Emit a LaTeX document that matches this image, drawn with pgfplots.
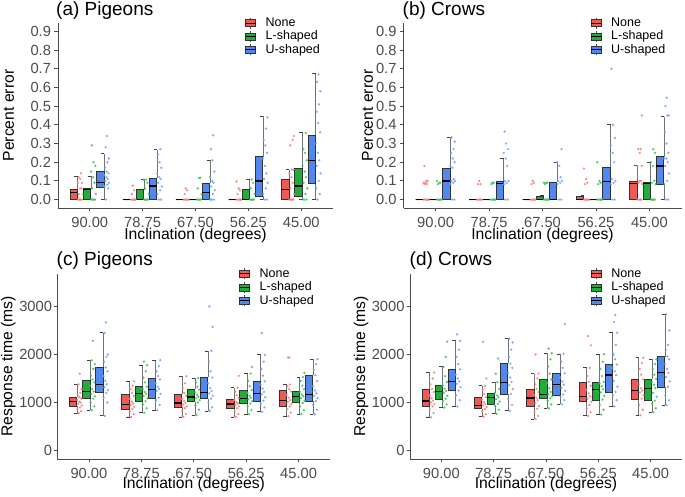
\documentclass[border=0pt]{standalone}
\usepackage{fontspec}
\setmainfont{Liberation Sans}
\usepackage{pgfplots}
\usepackage{pgfplotstable}
\pgfplotsset{compat=1.18}
\usepgfplotslibrary{statistics}
\definecolor{bR}{HTML}{EE5A55}
\definecolor{bG}{HTML}{1FAE3A}
\definecolor{bB}{HTML}{5088F0}
\definecolor{pR}{HTML}{F37E78}
\definecolor{pG}{HTML}{3DBF55}
\definecolor{pB}{HTML}{6F9EF7}
\definecolor{boxline}{HTML}{333333}
\tikzset{whiskline/.style={draw=black!55, line width=1pt}, whiskcap/.style={draw=black!75, line width=0.8pt}}
\pgfplotsset{legend image code/.code={%
  \path[draw=none, fill=none] (0pt,0pt) -- (20pt,0pt);
  \draw[black!70, line width=0.6pt] (5pt,-5.5pt) -- (5pt,5.5pt);
  \draw[#1, line width=0.6pt] (0pt,-3.5pt) rectangle (10pt,3.5pt);
  \draw[black, line width=1pt] (0pt,0pt) -- (10pt,0pt);}}
\pgfplotsset{panel/.style={
  scale only axis, anchor=south west,
  axis lines*=left,
  axis line style={line width=0.8pt, black!70},
  tick style={line width=0.8pt, black!70},
  tick align=outside, major tick length=3.5pt,
  xmin=0.4, xmax=5.6, xtick={1,2,3,4,5},
  xticklabels={90.00,78.75,67.50,56.25,45.00},
  tick label style={font=\fontsize{14.7}{16}\selectfont, text=black!70},
  xticklabel style={inner sep=0pt, anchor=north, yshift=-5.3pt},
  label style={font=\fontsize{15.7}{18}\selectfont, inner sep=0pt},
  xlabel={Inclination (degrees)},
  xlabel style={at={(axis description cs:0.5,0)}, anchor=base},
  ylabel style={at={(axis description cs:0,0.5)}, anchor=center},
  title style={at={(axis description cs:0,1)}, anchor=base west, inner sep=0pt, font=\fontsize{19}{22}\selectfont},
  legend style={draw=none, fill=none, inner sep=0pt, at={(axis description cs:0,1)}, anchor=north west,
    font=\fontsize{12.5}{14}\selectfont, row sep=1.8pt,
    nodes={inner sep=0pt, text height=9pt, text depth=2.5pt}},
  legend cell align=left,
  /pgf/number format/assume math mode=true,
  boxplot/draw direction=y,
  boxplot/box extend=0.14,
  boxplot/every median/.style={draw=black, line width=1.3pt},
  boxplot/draw/lower whisker/.code={%
    \draw[whiskline] (boxplot box cs:\pgfplotsboxplotvalue{lower whisker},1.07) -- (boxplot box cs:\pgfplotsboxplotvalue{lower quartile},1.07);
    \draw[whiskcap] (boxplot box cs:\pgfplotsboxplotvalue{lower whisker},0.6) -- (boxplot box cs:\pgfplotsboxplotvalue{lower whisker},1.07);},
  boxplot/draw/upper whisker/.code={%
    \draw[whiskline] (boxplot box cs:\pgfplotsboxplotvalue{upper quartile},1.07) -- (boxplot box cs:\pgfplotsboxplotvalue{upper whisker},1.07);
    \draw[whiskcap] (boxplot box cs:\pgfplotsboxplotvalue{upper whisker},0.6) -- (boxplot box cs:\pgfplotsboxplotvalue{upper whisker},1.07);},
}}
\newcommand\bx[7]{\addplot[forget plot, fill=#7, draw=boxline, line width=0.6pt, boxplot prepared={draw position=#1, lower whisker=#2, lower quartile=#3, median=#4, upper quartile=#5, upper whisker=#6}] coordinates {};}
\newcommand\pts[3]{\addplot[forget plot, only marks, color=#3, mark=*, mark size=1.3pt, mark options={solid, fill=#3, draw opacity=0, fill opacity=0.85}] table[x expr=\thisrow{g}+(#2)+0.1*\thisrow{j}, y=y] {#1};}
\newcommand\ptsms[3]{\addplot[forget plot, only marks, color=#3, mark=*, mark size=1.3pt, mark options={solid, fill=#3, draw opacity=0, fill opacity=0.85}] table[x expr=\thisrow{g}+(#2)+0.1*\thisrow{j}, y expr=\thisrow{y}/1000] {#1};}
\newcommand\leg{\addlegendimage{fill=bR, draw=boxline}\addlegendimage{fill=bG, draw=boxline}\addlegendimage{fill=bB, draw=boxline}\legend{None,L-shaped,U-shaped}}

\pgfplotstableread[row sep=\\]{g j y\\
1 0.35 0\\1 0.8 0\\1 0.1 0\\1 0.6 0\\1 0.95 0.03\\1 0.25 0.03\\1 0.7 0.06\\1 0.45 0.06\\1 0.05 0.09\\1 0.85 0.09\\1 0.5 0.11\\1 0.2 0.12\\1 0.65 0.14\\
2 0.35 0\\2 0.8 0\\2 0.1 0\\2 0.6 0\\2 0.95 0\\2 0.25 0.03\\2 0.7 0.05\\2 0.45 0.075\\
3 0.35 0\\3 0.8 0\\3 0.1 0\\3 0.6 0\\3 0.95 0\\3 0.25 0.03\\3 0.7 0.05\\3 0.45 0.06\\
4 0.35 0\\4 0.8 0\\4 0.1 0\\4 0.6 0\\4 0.95 0\\4 0.25 0.03\\4 0.7 0.05\\4 0.45 0.06\\4 0.05 0.097\\
5 0.35 0\\5 0.8 0\\5 0.1 0\\5 0.6 0\\5 0.95 0.03\\5 0.25 0.06\\5 0.7 0.09\\5 0.45 0.12\\5 0.05 0.14\\5 0.85 0.16\\5 0.5 0.16\\5 0.2 0.29\\5 0.65 0.32\\5 0.9 0.34\\
}\ARr
\pgfplotstableread[row sep=\\]{g j y\\
1 0.35 0\\1 0.8 0\\1 0.1 0\\1 0.6 0\\1 0.95 0.03\\1 0.25 0.06\\1 0.7 0.09\\1 0.45 0.12\\1 0.05 0.15\\1 0.85 0.18\\1 0.5 0.2\\1 0.2 0.29\\
2 0.35 0\\2 0.8 0\\2 0.1 0\\2 0.6 0\\2 0.95 0.03\\2 0.25 0.06\\2 0.7 0.09\\2 0.45 0.107\\2 0.05 0.107\\
3 0.35 0\\3 0.8 0\\3 0.1 0\\3 0.6 0\\3 0.95 0.03\\3 0.25 0.06\\3 0.7 0.116\\3 0.45 0.116\\
4 0.35 0\\4 0.8 0\\4 0.1 0\\4 0.6 0\\4 0.95 0.03\\4 0.25 0.06\\4 0.7 0.09\\4 0.45 0.107\\
5 0.35 0\\5 0.8 0\\5 0.1 0\\5 0.6 0.03\\5 0.95 0.06\\5 0.25 0.09\\5 0.7 0.12\\5 0.45 0.15\\5 0.05 0.18\\5 0.85 0.21\\5 0.5 0.25\\5 0.2 0.27\\5 0.65 0.357\\
}\AGr
\pgfplotstableread[row sep=\\]{g j y\\
1 0.35 0\\1 0.8 0.06\\1 0.1 0.07\\1 0.6 0.08\\1 0.95 0.09\\1 0.25 0.1\\1 0.7 0.11\\1 0.45 0.12\\1 0.05 0.13\\1 0.85 0.14\\1 0.5 0.15\\1 0.2 0.17\\1 0.65 0.2\\1 0.9 0.22\\1 0.3 0.28\\1 0.55 0.34\\
2 0.35 0\\2 0.8 0\\2 0.1 0.03\\2 0.6 0.05\\2 0.95 0.07\\2 0.25 0.09\\2 0.7 0.11\\2 0.45 0.12\\2 0.05 0.14\\2 0.85 0.17\\2 0.5 0.2\\2 0.2 0.24\\2 0.65 0.27\\
3 0.35 0\\3 0.8 0\\3 0.1 0\\3 0.6 0.03\\3 0.95 0.05\\3 0.25 0.07\\3 0.7 0.09\\3 0.45 0.1\\3 0.05 0.12\\3 0.85 0.15\\3 0.5 0.21\\3 0.2 0.27\\3 0.65 0.344\\
4 0.35 0\\4 0.8 0\\4 0.1 0.03\\4 0.6 0.06\\4 0.95 0.09\\4 0.25 0.11\\4 0.7 0.14\\4 0.45 0.18\\4 0.05 0.22\\4 0.85 0.25\\4 0.5 0.29\\4 0.2 0.32\\4 0.65 0.38\\4 0.9 0.44\\
5 0.35 0\\5 0.8 0.03\\5 0.1 0.06\\5 0.6 0.1\\5 0.95 0.14\\5 0.25 0.18\\5 0.7 0.21\\5 0.45 0.25\\5 0.05 0.3\\5 0.85 0.36\\5 0.5 0.41\\5 0.2 0.47\\5 0.65 0.51\\5 0.9 0.58\\5 0.3 0.63\\5 0.55 0.67\\
}\ABr
\pgfplotstableread[row sep=\\]{g j y\\
1 0.35 0\\1 0.8 0\\1 0.1 0\\1 0.6 0\\1 0.95 0\\1 0.25 0.083\\1 0.7 0.083\\1 0.45 0.09\\1 0.05 0.09\\1 0.85 0.1\\1 0.5 0.1\\1 0.2 0.18\\
2 0.35 0\\2 0.8 0\\2 0.1 0\\2 0.6 0\\2 0.95 0\\2 0.25 0.083\\2 0.7 0.083\\2 0.45 0.1\\
3 0.35 0\\3 0.8 0\\3 0.1 0\\3 0.6 0\\3 0.95 0\\3 0.25 0.083\\3 0.7 0.09\\3 0.45 0.1\\
4 0.35 0\\4 0.8 0\\4 0.1 0\\4 0.6 0\\4 0.95 0\\4 0.25 0.083\\4 0.7 0.09\\4 0.45 0.11\\4 0.05 0.166\\
5 0.35 0\\5 0.8 0\\5 0.1 0\\5 0.6 0\\5 0.95 0.083\\5 0.25 0.09\\5 0.7 0.1\\5 0.45 0.1\\5 0.05 0.18\\5 0.85 0.18\\5 0.5 0.25\\5 0.2 0.27\\5 0.65 0.27\\5 0.9 0.45\\
}\BRr
\pgfplotstableread[row sep=\\]{g j y\\
1 0.35 0\\1 0.8 0\\1 0.1 0\\1 0.6 0\\1 0.95 0\\1 0.25 0.083\\1 0.7 0.09\\1 0.45 0.09\\1 0.05 0.1\\
2 0.35 0\\2 0.8 0\\2 0.1 0\\2 0.6 0\\2 0.95 0\\2 0.25 0.083\\2 0.7 0.09\\2 0.45 0.09\\
3 0.35 0\\3 0.8 0\\3 0.1 0\\3 0.6 0\\3 0.95 0\\3 0.25 0.083\\3 0.7 0.09\\3 0.45 0.09\\3 0.05 0.09\\
4 0.35 0\\4 0.8 0\\4 0.1 0\\4 0.6 0\\4 0.95 0\\4 0.25 0.083\\4 0.7 0.09\\4 0.45 0.1\\4 0.05 0.2\\
5 0.35 0\\5 0.8 0\\5 0.1 0\\5 0.6 0\\5 0.95 0.083\\5 0.25 0.09\\5 0.7 0.1\\5 0.45 0.18\\5 0.05 0.2\\5 0.85 0.25\\5 0.5 0.27\\
}\BGr
\pgfplotstableread[row sep=\\]{g j y\\
1 0.35 0\\1 0.8 0\\1 0.1 0.083\\1 0.6 0.09\\1 0.95 0.1\\1 0.25 0.1\\1 0.7 0.11\\1 0.45 0.17\\1 0.05 0.18\\1 0.85 0.2\\1 0.5 0.22\\1 0.2 0.25\\1 0.65 0.27\\1 0.9 0.31\\1 0.3 0.333\\
2 0.35 0\\2 0.8 0\\2 0.1 0.083\\2 0.6 0.09\\2 0.95 0.1\\2 0.25 0.1\\2 0.7 0.18\\2 0.45 0.22\\2 0.05 0.25\\2 0.85 0.27\\2 0.5 0.3\\2 0.2 0.364\\
3 0.35 0\\3 0.8 0\\3 0.1 0.083\\3 0.6 0.09\\3 0.95 0.1\\3 0.25 0.1\\3 0.7 0.12\\3 0.45 0.18\\3 0.05 0.2\\3 0.85 0.27\\
4 0.35 0\\4 0.8 0\\4 0.1 0.083\\4 0.6 0.09\\4 0.95 0.1\\4 0.25 0.11\\4 0.7 0.2\\4 0.45 0.25\\4 0.05 0.29\\4 0.85 0.33\\4 0.5 0.4\\4 0.2 0.7\\
5 0.35 0\\5 0.8 0\\5 0.1 0.083\\5 0.6 0.1\\5 0.95 0.14\\5 0.25 0.18\\5 0.7 0.2\\5 0.45 0.22\\5 0.05 0.22\\5 0.85 0.25\\5 0.5 0.3\\5 0.2 0.36\\5 0.65 0.45\\5 0.9 0.45\\5 0.3 0.5\\5 0.55 0.545\\
}\BBr
\pgfplotstableread[row sep=\\]{g j y\\
1 0.35 780\\1 0.8 820\\1 0.1 860\\1 0.6 900\\1 0.95 940\\1 0.25 970\\1 0.7 1000\\1 0.45 1020\\1 0.05 1050\\1 0.85 1080\\1 0.5 1110\\1 0.2 1150\\1 0.65 1200\\1 0.9 1280\\1 0.3 1380\\1 0.55 1600\\
2 0.35 701\\2 0.8 760\\2 0.1 820\\2 0.6 870\\2 0.95 910\\2 0.25 950\\2 0.7 980\\2 0.45 1020\\2 0.05 1080\\2 0.85 1140\\2 0.5 1200\\2 0.2 1280\\2 0.65 1350\\2 0.9 1444\\
3 0.35 701\\3 0.8 760\\3 0.1 830\\3 0.6 880\\3 0.95 920\\3 0.25 960\\3 0.7 990\\3 0.45 1030\\3 0.05 1080\\3 0.85 1140\\3 0.5 1200\\3 0.2 1300\\3 0.65 1400\\3 0.9 1549\\
4 0.35 701\\4 0.8 760\\4 0.1 820\\4 0.6 880\\4 0.95 920\\4 0.25 950\\4 0.7 980\\4 0.45 1010\\4 0.05 1050\\4 0.85 1090\\4 0.5 1150\\4 0.2 1230\\4 0.65 1306\\4 0.9 1556\\
5 0.35 715\\5 0.8 790\\5 0.1 860\\5 0.6 920\\5 0.95 970\\5 0.25 1010\\5 0.7 1050\\5 0.45 1100\\5 0.05 1160\\5 0.85 1230\\5 0.5 1280\\5 0.2 1340\\5 0.65 1375\\5 0.3 1938\\5 0.55 1938\\
}\CRr
\pgfplotstableread[row sep=\\]{g j y\\
1 0.35 840\\1 0.8 920\\1 0.1 1000\\1 0.6 1080\\1 0.95 1130\\1 0.25 1180\\1 0.7 1230\\1 0.45 1280\\1 0.05 1350\\1 0.85 1420\\1 0.5 1480\\1 0.2 1560\\1 0.65 1700\\1 0.9 1800\\1 0.3 1880\\1 0.55 2285\\
2 0.35 785\\2 0.8 880\\2 0.1 960\\2 0.6 1030\\2 0.95 1090\\2 0.25 1140\\2 0.7 1180\\2 0.45 1220\\2 0.05 1280\\2 0.85 1330\\2 0.5 1420\\2 0.2 1520\\2 0.65 1650\\2 0.9 1778\\2 0.3 1850\\
3 0.35 735\\3 0.8 850\\3 0.1 940\\3 0.6 1000\\3 0.95 1050\\3 0.25 1090\\3 0.7 1120\\3 0.45 1160\\3 0.05 1210\\3 0.85 1270\\3 0.5 1330\\3 0.2 1420\\3 0.65 1510\\
4 0.35 757\\4 0.8 840\\4 0.1 920\\4 0.6 980\\4 0.95 1030\\4 0.25 1070\\4 0.7 1100\\4 0.45 1140\\4 0.05 1200\\4 0.85 1260\\4 0.5 1340\\4 0.2 1450\\4 0.65 1604\\4 0.9 1740\\
5 0.35 757\\5 0.8 840\\5 0.1 920\\5 0.6 990\\5 0.95 1040\\5 0.25 1090\\5 0.7 1130\\5 0.45 1170\\5 0.05 1220\\5 0.85 1280\\5 0.5 1350\\5 0.2 1450\\5 0.65 1528\\5 0.9 1620\\
}\CGr
\pgfplotstableread[row sep=\\]{g j y\\
1 0.35 722\\1 0.8 1000\\1 0.1 1100\\1 0.6 1200\\1 0.95 1260\\1 0.25 1320\\1 0.7 1380\\1 0.45 1450\\1 0.05 1550\\1 0.85 1650\\1 0.5 1730\\1 0.2 1850\\1 0.65 1950\\1 0.9 2000\\1 0.3 2450\\1 0.55 2667\\
2 0.35 840\\2 0.8 950\\2 0.1 1050\\2 0.6 1100\\2 0.95 1180\\2 0.25 1240\\2 0.7 1280\\2 0.45 1330\\2 0.05 1400\\2 0.85 1480\\2 0.5 1550\\2 0.2 1650\\2 0.65 1760\\2 0.9 1882\\
3 0.35 824\\3 0.8 900\\3 0.1 1000\\3 0.6 1080\\3 0.95 1140\\3 0.25 1190\\3 0.7 1240\\3 0.45 1300\\3 0.05 1400\\3 0.85 1520\\3 0.5 1650\\3 0.2 1850\\3 0.65 2073\\3 0.9 2575\\3 0.3 3000\\
4 0.35 806\\4 0.8 900\\4 0.1 980\\4 0.6 1040\\4 0.95 1110\\4 0.25 1170\\4 0.7 1220\\4 0.45 1290\\4 0.05 1380\\4 0.85 1440\\4 0.5 1560\\4 0.2 1700\\4 0.65 1850\\4 0.9 1993\\4 0.3 2444\\
5 0.35 757\\5 0.8 850\\5 0.1 950\\5 0.6 1030\\5 0.95 1090\\5 0.25 1140\\5 0.7 1190\\5 0.45 1250\\5 0.05 1340\\5 0.85 1450\\5 0.5 1570\\5 0.2 1680\\5 0.65 1800\\5 0.9 1903\\
}\CBr
\pgfplotstableread[row sep=\\]{g j y\\
1 0.35 690\\1 0.8 780\\1 0.1 860\\1 0.6 920\\1 0.95 970\\1 0.25 1010\\1 0.7 1040\\1 0.45 1090\\1 0.05 1150\\1 0.85 1220\\1 0.5 1280\\1 0.2 1380\\1 0.65 1500\\1 0.9 1625\\
2 0.35 708\\2 0.8 760\\2 0.1 820\\2 0.6 870\\2 0.95 910\\2 0.25 940\\2 0.7 970\\2 0.45 1010\\2 0.05 1060\\2 0.85 1110\\2 0.5 1180\\2 0.2 1260\\2 0.65 1347\\2 0.9 1500\\2 0.3 2264\\
3 0.35 653\\3 0.8 720\\3 0.1 800\\3 0.6 870\\3 0.95 930\\3 0.25 990\\3 0.7 1050\\3 0.45 1100\\3 0.05 1160\\3 0.85 1220\\3 0.5 1280\\3 0.2 1380\\3 0.65 1500\\3 0.9 1604\\3 0.3 2000\\
4 0.35 722\\4 0.8 800\\4 0.1 880\\4 0.6 950\\4 0.95 1020\\4 0.25 1080\\4 0.7 1130\\4 0.45 1190\\4 0.05 1260\\4 0.85 1350\\4 0.5 1430\\4 0.2 1550\\4 0.65 1722\\4 0.9 2190\\4 0.3 2382\\
5 0.35 736\\5 0.8 850\\5 0.1 950\\5 0.6 1080\\5 0.95 1150\\5 0.25 1210\\5 0.7 1250\\5 0.45 1300\\5 0.05 1380\\5 0.85 1480\\5 0.5 1580\\5 0.2 1700\\5 0.65 1820\\5 0.9 1931\\
}\DRr
\pgfplotstableread[row sep=\\]{g j y\\
1 0.35 896\\1 0.8 960\\1 0.1 1030\\1 0.6 1080\\1 0.95 1140\\1 0.25 1200\\1 0.7 1240\\1 0.45 1290\\1 0.05 1350\\1 0.85 1430\\1 0.5 1550\\1 0.2 1743\\1 0.65 1950\\1 0.9 2264\\
2 0.35 764\\2 0.8 850\\2 0.1 920\\2 0.6 970\\2 0.95 1020\\2 0.25 1070\\2 0.7 1110\\2 0.45 1150\\2 0.05 1200\\2 0.85 1280\\2 0.5 1424\\2 0.2 1600\\2 0.65 1917\\
3 0.35 879\\3 0.8 960\\3 0.1 1040\\3 0.6 1090\\3 0.95 1130\\3 0.25 1170\\3 0.7 1220\\3 0.45 1300\\3 0.05 1400\\3 0.85 1480\\3 0.5 1600\\3 0.2 1750\\3 0.65 1900\\3 0.9 2025\\3 0.3 2122\\
4 0.35 750\\4 0.8 850\\4 0.1 950\\4 0.6 1060\\4 0.95 1140\\4 0.25 1210\\4 0.7 1280\\4 0.45 1340\\4 0.05 1400\\4 0.85 1430\\4 0.5 1550\\4 0.2 1700\\4 0.65 1850\\4 0.9 2007\\
5 0.35 799\\5 0.8 880\\5 0.1 970\\5 0.6 1040\\5 0.95 1120\\5 0.25 1200\\5 0.7 1300\\5 0.45 1370\\5 0.05 1430\\5 0.85 1490\\5 0.5 1580\\5 0.2 1700\\5 0.65 1800\\5 0.9 1896\\
}\DGr
\pgfplotstableread[row sep=\\]{g j y\\
1 0.35 917\\1 0.8 1050\\1 0.1 1150\\1 0.6 1250\\1 0.95 1320\\1 0.25 1390\\1 0.7 1440\\1 0.45 1500\\1 0.05 1580\\1 0.85 1690\\1 0.5 1800\\1 0.2 1950\\1 0.65 2100\\1 0.9 2285\\1 0.3 2417\\
2 0.35 826\\2 0.8 950\\2 0.1 1080\\2 0.6 1180\\2 0.95 1280\\2 0.25 1360\\2 0.7 1430\\2 0.45 1520\\2 0.05 1620\\2 0.85 1720\\2 0.5 1810\\2 0.2 1950\\2 0.65 2100\\2 0.9 2250\\2 0.3 2333\\
3 0.35 961\\3 0.8 1050\\3 0.1 1120\\3 0.6 1170\\3 0.95 1240\\3 0.25 1310\\3 0.7 1370\\3 0.45 1440\\3 0.05 1520\\3 0.85 1610\\3 0.5 1720\\3 0.2 1850\\3 0.65 2012\\3 0.9 2630\\
4 0.35 917\\4 0.8 1050\\4 0.1 1150\\4 0.6 1220\\4 0.95 1330\\4 0.25 1450\\4 0.7 1570\\4 0.45 1650\\4 0.05 1720\\4 0.85 1790\\4 0.5 1900\\4 0.2 2000\\4 0.65 2200\\4 0.9 2451\\4 0.3 2680\\4 0.55 2820\\
5 0.35 944\\5 0.8 1050\\5 0.1 1150\\5 0.6 1330\\5 0.95 1440\\5 0.25 1530\\5 0.7 1620\\5 0.45 1700\\5 0.05 1800\\5 0.85 1900\\5 0.5 1960\\5 0.2 2100\\5 0.65 2200\\5 0.9 2500\\5 0.3 2840\\
}\DBr

\begin{document}
\begin{tikzpicture}
\useasboundingbox (0,0) rectangle (685pt,497pt);
% (a)
\begin{axis}[panel, at={(58pt,289pt)}, width=275pt, height=185pt,
  ymin=-0.045, ymax=0.945, ytick={0,0.1,0.2,0.3,0.4,0.5,0.6,0.7,0.8,0.9},
  yticklabel style={/pgf/number format/.cd, fixed, fixed zerofill, precision=1},
  ylabel={Percent error}, ylabel style={yshift=49.5pt},
  xlabel style={yshift=-31.5pt},
  title={(a) Pigeons}, title style={xshift=-2pt, yshift=2pt},
  legend style={xshift=187pt, yshift=6pt}]
\leg
\bx{0.697}{0}{0}{0.037}{0.055}{0.125}{bR}
\bx{0.947}{0}{0}{0.055}{0.059}{0.125}{bG}
\bx{1.197}{0}{0.068}{0.091}{0.153}{0.246}{bB}
\bx{1.697}{0}{0}{0}{0}{0}{bR}
\bx{1.947}{0}{0}{0}{0.053}{0.107}{bG}
\bx{2.197}{0}{0}{0.073}{0.114}{0.268}{bB}
\bx{2.697}{0}{0}{0}{0}{0}{bR}
\bx{2.947}{0}{0}{0}{0}{0}{bG}
\bx{3.197}{0}{0}{0.037}{0.089}{0.21}{bB}
\bx{3.697}{0}{0}{0}{0}{0}{bR}
\bx{3.947}{0}{0}{0}{0.053}{0.107}{bG}
\bx{4.197}{0}{0.02}{0.10}{0.23}{0.447}{bB}
\bx{4.697}{0}{0}{0.055}{0.107}{0.16}{bR}
\bx{4.947}{0}{0.02}{0.073}{0.166}{0.357}{bG}
\bx{5.197}{0}{0.086}{0.209}{0.344}{0.677}{bB}
\pts{\ARr}{-0.23}{pR}
\pts{\AGr}{0.02}{pG}
\pts{\ABr}{0.27}{pB}
\end{axis}
% (b)
\begin{axis}[panel, at={(403.5pt,289pt)}, width=278pt, height=185pt,
  ymin=-0.045, ymax=0.945, ytick={0,0.1,0.2,0.3,0.4,0.5,0.6,0.7,0.8,0.9},
  yticklabel style={/pgf/number format/.cd, fixed, fixed zerofill, precision=1},
  ylabel={Percent error}, ylabel style={yshift=36pt},
  xlabel style={yshift=-31.5pt},
  title={(b) Crows}, title style={xshift=-1pt, yshift=2pt},
  legend style={xshift=187pt, yshift=6pt}]
\leg
\bx{0.697}{0}{0}{0}{0}{0}{bR}
\bx{0.947}{0}{0}{0}{0}{0}{bG}
\bx{1.197}{0}{0}{0.10}{0.166}{0.333}{bB}
\bx{1.697}{0}{0}{0}{0}{0}{bR}
\bx{1.947}{0}{0}{0}{0}{0}{bG}
\bx{2.197}{0}{0}{0.087}{0.10}{0.22}{bB}
\bx{2.697}{0}{0}{0}{0}{0}{bR}
\bx{2.947}{0}{0}{0}{0.02}{0.02}{bG}
\bx{3.197}{0}{0}{0}{0.093}{0.2}{bB}
\bx{3.697}{0}{0}{0}{0.02}{0.02}{bR}
\bx{3.947}{0}{0}{0}{0}{0}{bG}
\bx{4.197}{0}{0}{0.096}{0.171}{0.4}{bB}
\bx{4.697}{0}{0}{0.087}{0.10}{0.184}{bR}
\bx{4.947}{0}{0}{0.087}{0.093}{0.2}{bG}
\bx{5.197}{0}{0.083}{0.18}{0.23}{0.444}{bB}
\pts{\BRr}{-0.23}{pR}
\pts{\BGr}{0.02}{pG}
\pts{\BBr}{0.27}{pB}
\end{axis}
% (c) response time, in seconds on the axis, labelled in ms
\begin{axis}[panel, at={(57.5pt,38pt)}, width=272.5pt, height=185pt,
  ymin=-0.175, ymax=3.675, ytick={0,1,2,3}, yticklabels={0,1000,2000,3000},
  yticklabel style={xshift=1.5pt},
  ylabel={Response time (ms)}, ylabel style={yshift=49.2pt},
  xlabel style={yshift=-29.5pt},
  title={(c) Pigeons}, title style={xshift=-1pt, yshift=2.5pt},
  legend style={xshift=181.5pt, yshift=6pt}]
\leg
\bx{0.697}{0.771}{0.931}{1.021}{1.118}{1.382}{bR}
\bx{0.947}{0.840}{1.090}{1.229}{1.472}{1.882}{bG}
\bx{1.197}{0.722}{1.208}{1.375}{1.729}{2.451}{bB}
\bx{1.697}{0.701}{0.861}{0.965}{1.167}{1.444}{bR}
\bx{1.947}{0.785}{1.028}{1.181}{1.333}{1.778}{bG}
\bx{2.197}{0.840}{1.097}{1.271}{1.507}{1.882}{bB}
\bx{2.697}{0.701}{0.910}{0.993}{1.174}{1.549}{bR}
\bx{2.947}{0.735}{1.021}{1.118}{1.278}{1.510}{bG}
\bx{3.197}{0.824}{1.078}{1.215}{1.524}{2.073}{bB}
\bx{3.697}{0.701}{0.882}{0.972}{1.076}{1.306}{bR}
\bx{3.947}{0.757}{0.979}{1.090}{1.257}{1.604}{bG}
\bx{4.197}{0.806}{1.028}{1.194}{1.438}{1.993}{bB}
\bx{4.697}{0.715}{0.931}{1.049}{1.264}{1.375}{bR}
\bx{4.947}{0.757}{1.014}{1.125}{1.236}{1.528}{bG}
\bx{5.197}{0.757}{1.028}{1.174}{1.569}{1.903}{bB}
\ptsms{\CRr}{-0.23}{pR}
\ptsms{\CGr}{0.02}{pG}
\ptsms{\CBr}{0.27}{pB}
\end{axis}
% (d)
\begin{axis}[panel, at={(410pt,38pt)}, width=272pt, height=185pt,
  ymin=-0.175, ymax=3.675, ytick={0,1,2,3}, yticklabels={0,1000,2000,3000},
  yticklabel style={xshift=1.5pt},
  ylabel={Response time (ms)}, ylabel style={yshift=49pt},
  xlabel style={yshift=-29.5pt},
  title={(d) Crows}, title style={xshift=-0.5pt, yshift=2.5pt},
  legend style={xshift=180.7pt, yshift=6pt}]
\leg
\bx{0.697}{0.701}{0.931}{1.035}{1.278}{1.625}{bR}
\bx{0.947}{0.896}{1.063}{1.236}{1.354}{1.743}{bG}
\bx{1.197}{0.917}{1.250}{1.431}{1.694}{2.285}{bB}
\bx{1.697}{0.708}{0.875}{0.944}{1.111}{1.347}{bR}
\bx{1.947}{0.764}{0.958}{1.104}{1.194}{1.424}{bG}
\bx{2.197}{0.826}{1.174}{1.424}{1.813}{2.333}{bB}
\bx{2.697}{0.653}{0.931}{1.097}{1.278}{1.604}{bR}
\bx{2.947}{0.879}{1.085}{1.174}{1.483}{2.025}{bG}
\bx{3.197}{0.961}{1.160}{1.373}{1.614}{2.012}{bB}
\bx{3.697}{0.722}{1.021}{1.132}{1.431}{1.722}{bR}
\bx{3.947}{0.750}{1.056}{1.278}{1.431}{2.007}{bG}
\bx{4.197}{0.917}{1.215}{1.576}{1.792}{2.451}{bB}
\bx{4.697}{0.736}{1.076}{1.250}{1.479}{1.931}{bR}
\bx{4.947}{0.799}{1.042}{1.299}{1.486}{1.896}{bG}
\bx{5.197}{0.944}{1.326}{1.618}{1.958}{2.840}{bB}
\ptsms{\DRr}{-0.23}{pR}
\ptsms{\DGr}{0.02}{pG}
\ptsms{\DBr}{0.27}{pB}
\end{axis}
\end{tikzpicture}
\end{document}
